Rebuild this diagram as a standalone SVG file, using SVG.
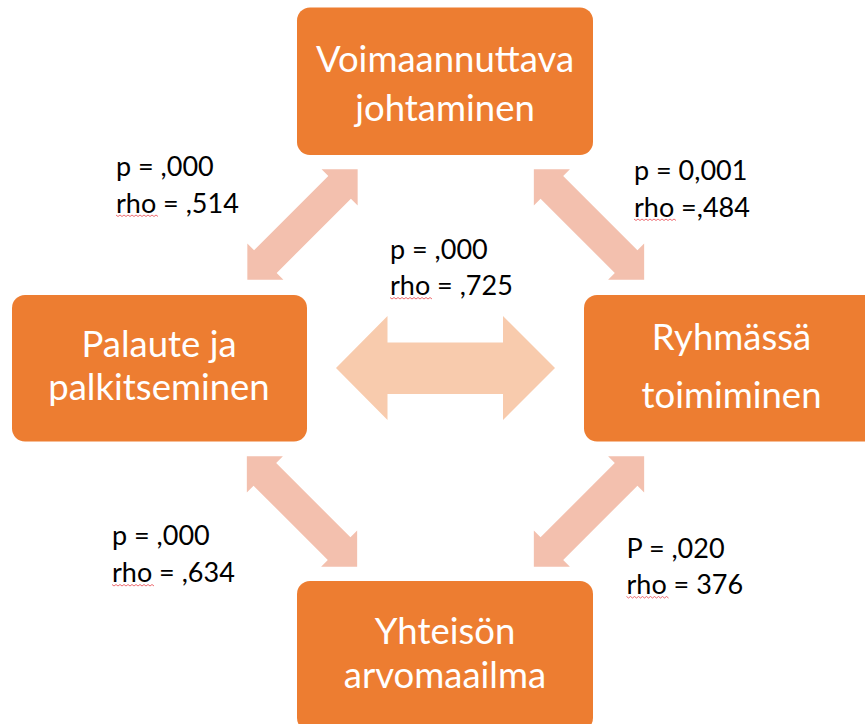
<svg xmlns="http://www.w3.org/2000/svg" width="865" height="724" viewBox="0 0 865 724">
  <style>
    .box { fill: #ED7D31; }
    .box-text { fill: #FFFFFF; font-family: Lato, "Open Sans", "Liberation Sans", sans-serif; font-size: 36.5px; text-anchor: middle; }
    .label { fill: #000000; font-family: Lato, "Open Sans", "Liberation Sans", sans-serif; font-size: 27px; }
    .diag { fill: #F3C0AE; }
    .horiz { fill: #F8CBAD; }
    .squiggle { fill: none; stroke: #E8484F; stroke-width: 1; opacity: 0.8; }
  </style>
  <defs>
    <!-- double-headed block arrow, centred on the origin, pointing along x -->
    <polygon id="dbl-arrow" points="-78,0 -52.5,-25.5 -52.5,-16 52.5,-16 52.5,-25.5 78,0 52.5,25.5 52.5,16 -52.5,16 -52.5,25.5"/>
    <!-- spell-check wavy underline -->
    <path id="wave" d="M0,0 l2,1.5 l2,-1.5 l2,1.5 l2,-1.5 l2,1.5 l2,-1.5 l2,1.5 l2,-1.5 l2,1.5 l2,-1.5 l2,1.5 l2,-1.5 l2,1.5 l2,-1.5 l2,1.5 l2,-1.5 l2,1.5 l2,-1.5 l2,1.5 l2,-1.5 l2,1.5"/>
  </defs>

  <rect width="865" height="724" fill="#FFFFFF"/>

  <g id="connectors">
    <use href="#dbl-arrow" class="diag" transform="translate(302.5,224.5) rotate(-45)"/>
    <use href="#dbl-arrow" class="diag" transform="translate(589,224.5) rotate(45)"/>
    <use href="#dbl-arrow" class="diag" transform="translate(302,511.5) rotate(45)"/>
    <use href="#dbl-arrow" class="diag" transform="translate(589,511.5) rotate(-45)"/>
    <polygon class="horiz" points="336,368 387.5,316 387.5,342.5 503,342.5 503,316 555,368 503,420 503,394 387.5,394 387.5,420"/>
  </g>

  <g id="node-voimaannuttava">
    <rect class="box" x="297" y="7.5" width="296" height="147.5" rx="13"/>
    <text class="box-text" x="445" y="71.5">Voimaannuttava</text>
    <text class="box-text" x="445" y="120.5">johtaminen</text>
  </g>

  <g id="node-palaute">
    <rect class="box" x="12" y="295" width="295" height="146.5" rx="13"/>
    <text class="box-text" x="159" y="357">Palaute ja</text>
    <text class="box-text" x="159" y="400">palkitseminen</text>
  </g>

  <g id="node-ryhmassa">
    <rect class="box" x="584" y="295" width="296" height="146.5" rx="13"/>
    <text class="box-text" x="731.5" y="350">Ryhmässä</text>
    <text class="box-text" x="731.5" y="408">toimiminen</text>
  </g>

  <g id="node-yhteison">
    <rect class="box" x="297" y="581" width="296" height="150" rx="13"/>
    <text class="box-text" x="445" y="644">Yhteisön</text>
    <text class="box-text" x="445" y="688">arvomaailma</text>
  </g>

  <g id="labels">
    <text class="label" x="116" y="175.5">p = ,000</text>
    <text class="label" x="116" y="212.5">rho = ,514</text>
    <use href="#wave" class="squiggle" x="116" y="215"/>

    <text class="label" x="634" y="180">p = 0,001</text>
    <text class="label" x="634" y="216.5">rho =,484</text>
    <use href="#wave" class="squiggle" x="634" y="219"/>

    <text class="label" x="390" y="258.5">p = ,000</text>
    <text class="label" x="390" y="295">rho = ,725</text>
    <use href="#wave" class="squiggle" x="390" y="297.5"/>

    <text class="label" x="112" y="545">p = ,000</text>
    <text class="label" x="112" y="582">rho = ,634</text>
    <use href="#wave" class="squiggle" x="112" y="584.5"/>

    <text class="label" x="626.5" y="557.5">P = ,020</text>
    <text class="label" x="626.5" y="594">rho = 376</text>
    <use href="#wave" class="squiggle" x="626.5" y="596.5"/>
  </g>
</svg>
